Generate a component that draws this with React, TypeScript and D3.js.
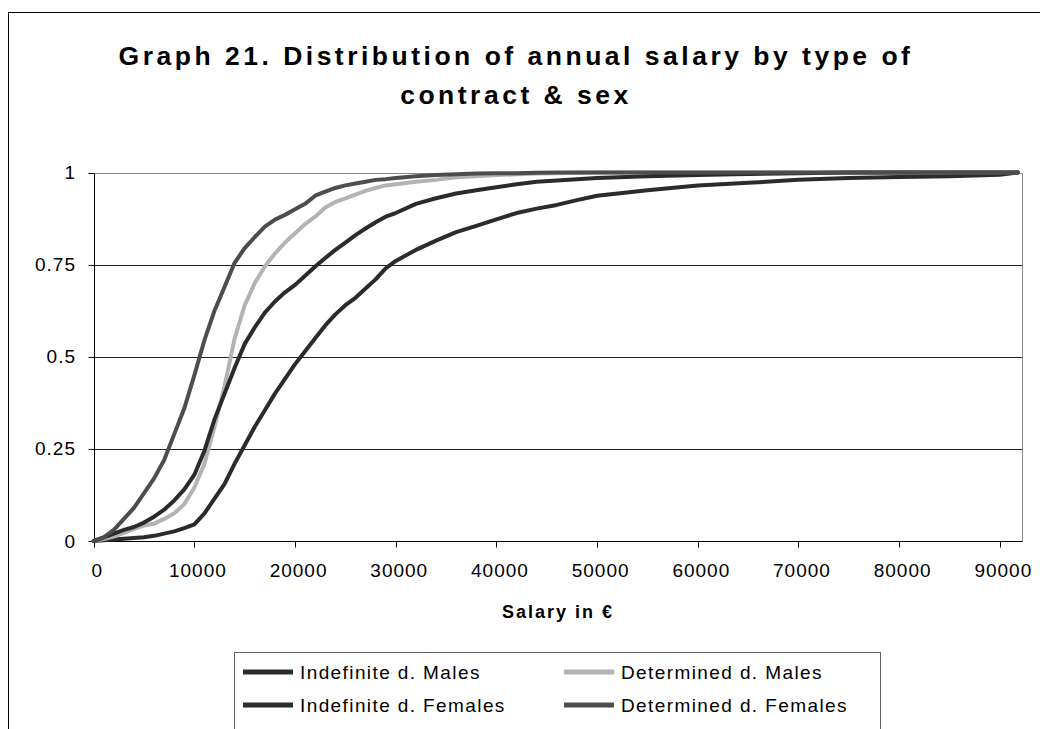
import React from 'react';
import * as d3 from 'd3';

// Salary grid (€)
const SALARY = [
  0, 1000, 2000, 3000, 4000, 5000, 6000, 7000, 8000, 9000,
  10000, 11000, 12000, 13000, 14000, 15000, 16000, 17000, 18000, 19000,
  20000, 21000, 22000, 23000, 24000, 25000, 26000, 27000, 28000, 29000,
  30000, 32000, 34000, 36000, 38000, 40000, 42000, 44000, 46000, 48000,
  50000, 55000, 60000, 65000, 70000, 75000, 80000, 85000, 90000, 91800,
];

const IND_MALES = [
  0, 0.002, 0.004, 0.006, 0.008, 0.01, 0.014, 0.02, 0.026, 0.035,
  0.045, 0.075, 0.115, 0.155, 0.21, 0.26, 0.31, 0.355, 0.4, 0.44,
  0.48, 0.515, 0.55, 0.585, 0.615, 0.64, 0.66, 0.685, 0.71, 0.74,
  0.76, 0.79, 0.815, 0.838, 0.855, 0.873, 0.89, 0.902, 0.912, 0.925,
  0.937, 0.952, 0.965, 0.972, 0.98, 0.985, 0.988, 0.99, 0.994, 1,
];

const DET_MALES = [
  0, 0.005, 0.012, 0.022, 0.033, 0.042, 0.047, 0.06, 0.075, 0.1,
  0.145, 0.21, 0.31, 0.42, 0.55, 0.64, 0.7, 0.745, 0.78, 0.81,
  0.835, 0.86, 0.88, 0.905, 0.92, 0.93, 0.94, 0.95, 0.958, 0.965,
  0.968, 0.975, 0.98, 0.987, 0.99, 0.993, 0.995, 0.997, 0.998, 0.999,
  1, 1, 1, 1, 1, 1, 1, 1, 1, 1,
];

const IND_FEMALES = [
  0, 0.01, 0.02, 0.03, 0.038, 0.05, 0.066, 0.085, 0.11, 0.14,
  0.18, 0.245, 0.33, 0.4, 0.47, 0.535, 0.58, 0.62, 0.65, 0.675,
  0.695, 0.72, 0.745, 0.768, 0.79, 0.81, 0.83, 0.848, 0.865, 0.88,
  0.89, 0.915, 0.93, 0.943, 0.952, 0.96, 0.968, 0.975, 0.978, 0.982,
  0.985, 0.99, 0.993, 0.996, 0.998, 1, 1, 1, 1, 1,
];

const DET_FEMALES = [
  0, 0.01, 0.03, 0.06, 0.09, 0.13, 0.17, 0.22, 0.29, 0.36,
  0.45, 0.545, 0.625, 0.69, 0.755, 0.795, 0.825, 0.853, 0.872, 0.885,
  0.9, 0.915, 0.937, 0.948, 0.958, 0.965, 0.97, 0.975, 0.98, 0.982,
  0.985, 0.99, 0.993, 0.995, 0.997, 0.998, 0.998, 0.999, 1, 1,
  1, 1, 1, 1, 1, 1, 1, 1, 1, 1,
];

const SERIES_NAMES = [
  'Indefinite d. Males',
  'Determined d. Males',
  'Indefinite d. Females',
  'Determined d. Females',
];
const SERIES_VALUES = [IND_MALES, DET_MALES, IND_FEMALES, DET_FEMALES];
const SERIES_COLORS = ['#2b2b2b', '#b3b3b3', '#2b2b2b', '#4d4d4d'];

const X_TICKS = [0, 10000, 20000, 30000, 40000, 50000, 60000, 70000, 80000, 90000];
const Y_TICKS = [0, 0.25, 0.5, 0.75, 1];
const X_MAX = 92200;

const TITLE_LINES = ['Graph 21. Distribution of annual salary by type of', 'contract & sex'];
const X_TITLE = 'Salary in €';

const FONT = "'Liberation Sans', Arial, Helvetica, sans-serif";

export default function App() {
  const W = 1040;
  const H = 729;
  const x = d3.scaleLinear().domain([0, X_MAX]).range([93.7, 1022]);
  const y = d3.scaleLinear().domain([0, 1]).range([541, 172.5]);
  const crisp = (v: number) => Math.round(v) + 0.5;

  const line = d3
    .line<[number, number]>()
    .x((d) => x(d[0]))
    .y((d) => y(d[1]));

  const plotL = crisp(x(0));
  const plotR = crisp(x(X_MAX));
  const plotT = crisp(y(1));
  const plotB = crisp(y(0));

  const legendX = 234.5;
  const legendY = 652.5;
  const legendCols = [243, 564];
  const legendRows = [672, 705];

  return (
    <svg
      width={W}
      height={H}
      style={{ position: 'absolute', left: 0, top: 0, background: '#fff' }}
      fontFamily={FONT}
    >
      <rect x={0} y={0} width={W} height={H} fill="#fff" />
      {/* chart frame */}
      <rect x={8.5} y={12.5} width={1100} height={800} fill="none" stroke="#000" strokeWidth={1} />

      {/* title */}
      {TITLE_LINES.map((t, i) => (
        <text
          key={i}
          x={516}
          y={65 + i * 39}
          textAnchor="middle"
          fontSize={26.5}
          fontWeight="bold"
          letterSpacing={3.5}
          fill="#000"
        >
          {t}
        </text>
      ))}

      {/* gridlines */}
      {Y_TICKS.filter((v) => v > 0 && v < 1).map((v) => (
        <line key={v} x1={plotL} x2={plotR} y1={crisp(y(v))} y2={crisp(y(v))} stroke="#222" strokeWidth={1} />
      ))}

      {/* plot border (gray) */}
      <line x1={plotL} x2={plotR} y1={plotT} y2={plotT} stroke="#8a8a8a" strokeWidth={1} />
      <line x1={plotR} x2={plotR} y1={plotT} y2={plotB} stroke="#8a8a8a" strokeWidth={1} />

      {/* axes */}
      <line x1={plotL} x2={plotL} y1={plotT} y2={plotB} stroke="#000" strokeWidth={1} />
      <line x1={plotL} x2={plotR} y1={plotB} y2={plotB} stroke="#000" strokeWidth={1} />

      {/* y ticks + labels */}
      {Y_TICKS.map((v) => (
        <g key={v}>
          <line x1={plotL - 6} x2={plotL} y1={crisp(y(v))} y2={crisp(y(v))} stroke="#000" />
          <text x={76} y={y(v) + 6.5} textAnchor="end" fontSize={19} letterSpacing={1} fill="#000">
            {String(v)}
          </text>
        </g>
      ))}

      {/* x ticks + labels */}
      {X_TICKS.map((v) => (
        <g key={v}>
          <line x1={crisp(x(v))} x2={crisp(x(v))} y1={plotB} y2={plotB + 6} stroke="#000" />
          <text x={x(v) + 3.5} y={577} textAnchor="middle" fontSize={19} letterSpacing={1} fill="#000">
            {String(v)}
          </text>
        </g>
      ))}

      {/* x title */}
      <text x={558} y={618} textAnchor="middle" fontSize={18} fontWeight="bold" letterSpacing={2} fill="#000">
        {X_TITLE}
      </text>

      {/* series */}
      {SERIES_VALUES.map((vals, i) => (
        <path
          key={i}
          d={line(SALARY.map((s, j) => [s, vals[j]] as [number, number])) || ''}
          fill="none"
          stroke={SERIES_COLORS[i]}
          strokeWidth={4}
          strokeLinejoin="round"
          strokeLinecap="round"
        />
      ))}

      {/* legend */}
      <rect x={legendX} y={legendY} width={646} height={120} fill="#fff" stroke="#666" strokeWidth={1} />
      {SERIES_NAMES.map((name, i) => {
        const cx = legendCols[i % 2];
        const cy = legendRows[Math.floor(i / 2)];
        return (
          <g key={name}>
            <line x1={cx} x2={cx + 50} y1={cy} y2={cy} stroke={SERIES_COLORS[i]} strokeWidth={5} />
            <text x={cx + 57} y={cy + 7} fontSize={19} letterSpacing={1.4} fill="#000">
              {name}
            </text>
          </g>
        );
      })}
    </svg>
  );
}
